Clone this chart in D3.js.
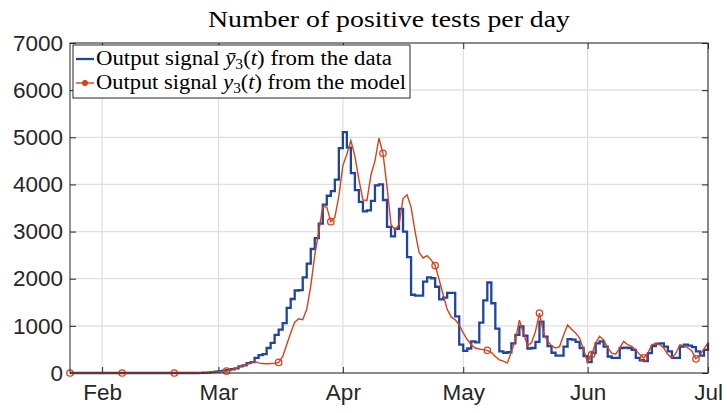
<!DOCTYPE html>
<html>
<head>
<meta charset="utf-8">
<script src="https://cdn.jsdelivr.net/npm/d3@7/dist/d3.min.js"></script>
<style>
  body { margin: 0; background: #fff; }
  svg { display: block; }
</style>
</head>
<body>
<div id="chart"></div>
<script>
// day 0 = 24 Jan 2020, one value per day up to 1 Jul
const startDate = new Date(2020, 0, 24);
const endDate = new Date(2020, 6, 1);

const dataValues = [
  0, 0, 0, 0, 0, 0, 0, 0, 0, 0, 0, 0, 0, 0, 0, 0, 0, 0, 0, 0,
  0, 0, 0, 0, 0, 0, 0, 0, 0, 0, 0, 0, 2, 5, 10, 18, 28, 40, 50, 60,
  80, 100, 140, 160, 210, 230, 320, 380, 400, 530, 640, 810, 920, 1060, 1380, 1570, 1750, 1760, 2030, 2320,
  2630, 2860, 3170, 3570, 3760, 3860, 4100, 4770, 5110, 4780, 4240, 3880, 3630, 3430, 3450, 3650, 3980, 4000, 3670, 3100,
  2900, 3060, 3480, 3000, 2460, 1660, 1640, 1640, 1940, 2030, 2010, 1830, 1560, 1600, 1700, 1700, 1200, 600, 470, 520,
  670, 650, 1070, 1540, 1920, 1480, 940, 460, 430, 440, 630, 810, 990, 790, 520, 530, 660, 1090, 770, 570,
  430, 370, 370, 560, 720, 710, 660, 530, 360, 230, 420, 630, 670, 560, 350, 320, 320, 530, 540, 530,
  490, 320, 270, 250, 420, 570, 620, 630, 560, 460, 320, 320, 560, 600, 580, 550, 460, 370, 490, 640
];

const modelValues = [
  0, 0, 0, 0, 0, 0, 0, 0, 0, 0, 0, 0, 0, 0, 0, 0, 0, 0, 0, 0,
  0, 0, 0, 0, 0, 0, 0, 0, 0, 0, 0, 2, 4, 7, 10, 15, 20, 25, 32, 40,
  60, 90, 120, 150, 180, 215, 245, 215, 200, 195, 200, 205, 225, 350, 600, 850, 1080, 1150, 1130, 1350,
  1850, 2500, 3000, 3530, 3520, 3210, 3300, 3750, 4400, 4640, 4930, 4600, 4100, 3670, 3660, 4200, 4500, 4980, 4660, 3960,
  3150, 3030, 3150, 3700, 3780, 3520, 3000, 2560, 2440, 2490, 2400, 2280, 1980, 1660, 1350, 1190, 1130, 1020, 850, 710,
  600, 530, 510, 495, 480, 440, 350, 280, 250, 215, 450, 700, 1120, 850, 580, 640, 880, 1270, 850, 680,
  580, 530, 560, 800, 1020, 930, 850, 740, 500, 230, 390, 640, 780, 700, 540, 420, 400, 530, 670, 600,
  565, 490, 390, 320, 420, 600, 620, 600, 530, 390, 320, 420, 600, 580, 530, 460, 300, 390, 510, 640
];

// model markers sit on every 13th day
const markerDays = [0, 13, 26, 39, 52, 65, 78, 91, 104, 117, 130, 143, 156];

const yTicks = [0, 1000, 2000, 3000, 4000, 5000, 6000, 7000];
const monthTicks = [
  new Date(2020, 1, 1), new Date(2020, 2, 1), new Date(2020, 3, 1),
  new Date(2020, 4, 1), new Date(2020, 5, 1), new Date(2020, 6, 1)
];

const titleText = 'Number of positive tests per day';

const width = 727;
const height = 413;
const margin = { top: 43, right: 19, bottom: 40, left: 70 };
const innerW = width - margin.left - margin.right;
const innerH = height - margin.top - margin.bottom;

const axisColor = '#262626';
const gridColor = '#dedede';
const blue = '#1f469c';
const red = '#d4421a';
const serif = '"Liberation Serif", "Times New Roman", serif';
const sans = '"Liberation Sans", Arial, sans-serif';

const svg = d3.select('#chart')
  .append('svg')
  .attr('width', width)
  .attr('height', height);

const g = svg.append('g')
  .attr('transform', `translate(${margin.left}, ${margin.top})`);

const x = d3.scaleTime().domain([startDate, endDate]).range([0, innerW]);
const y = d3.scaleLinear().domain([0, 7000]).range([innerH, 0]);

const day = i => d3.timeDay.offset(startDate, i);

// grid
g.append('g')
  .selectAll('line')
  .data(yTicks)
  .enter()
  .append('line')
  .attr('x1', 0)
  .attr('x2', innerW)
  .attr('y1', d => y(d))
  .attr('y2', d => y(d))
  .style('stroke', gridColor)
  .style('stroke-width', 1.2);

g.append('g')
  .selectAll('line')
  .data(monthTicks)
  .enter()
  .append('line')
  .attr('x1', d => x(d))
  .attr('x2', d => x(d))
  .attr('y1', 0)
  .attr('y2', innerH)
  .style('stroke', gridColor)
  .style('stroke-width', 1.2);

// axes, ticks pointing inward
const styleAxis = sel => {
  sel.select('.domain').remove();
  sel.selectAll('line').style('stroke', axisColor).style('stroke-width', 1);
  sel.selectAll('text')
    .style('fill', axisColor)
    .style('font-family', sans)
    .style('font-size', '22.5px');
};

g.append('g')
  .call(d3.axisLeft(y).tickValues(yTicks).tickSize(-6).tickPadding(7).tickFormat(d3.format('d')))
  .call(styleAxis);

g.append('g')
  .attr('transform', `translate(${innerW}, 0)`)
  .call(d3.axisRight(y).tickValues(yTicks).tickSize(-6).tickFormat(''))
  .call(styleAxis);

g.append('g')
  .attr('transform', `translate(0, ${innerH})`)
  .call(d3.axisBottom(x).tickValues(monthTicks).tickSize(-6).tickPadding(11).tickFormat(d3.timeFormat('%b')))
  .call(styleAxis);

g.append('g')
  .call(d3.axisTop(x).tickValues(monthTicks).tickSize(-6).tickFormat(''))
  .call(styleAxis);

// series
const stairs = d3.line()
  .x((d, i) => x(day(i)))
  .y(d => y(d))
  .curve(d3.curveStepAfter);

g.append('path')
  .datum(dataValues)
  .attr('d', stairs)
  .style('fill', 'none')
  .style('stroke', blue)
  .style('stroke-width', 2.3);

const modelLine = d3.line()
  .x((d, i) => x(day(i)))
  .y(d => y(d));

g.append('path')
  .datum(modelValues)
  .attr('d', modelLine)
  .style('fill', 'none')
  .style('stroke', red)
  .style('stroke-width', 1.4);

g.append('g')
  .selectAll('circle')
  .data(markerDays)
  .enter()
  .append('circle')
  .attr('cx', d => x(day(d)))
  .attr('cy', d => y(modelValues[d]))
  .attr('r', 3.2)
  .style('fill', 'none')
  .style('stroke', red)
  .style('stroke-width', 1.3);

// box
g.append('rect')
  .attr('width', innerW)
  .attr('height', innerH)
  .style('fill', 'none')
  .style('stroke', axisColor)
  .style('stroke-width', 1);

// title
svg.append('text')
  .attr('x', margin.left + innerW / 2)
  .attr('y', 27)
  .attr('text-anchor', 'middle')
  .attr('textLength', 362)
  .attr('lengthAdjust', 'spacingAndGlyphs')
  .style('font-family', serif)
  .style('font-size', '24px')
  .style('fill', '#000')
  .text(titleText);

// legend
const legend = g.append('g').attr('transform', 'translate(3, 2)');
legend.append('rect')
  .attr('width', 337)
  .attr('height', 53)
  .style('fill', '#fff')
  .style('stroke', axisColor)
  .style('stroke-width', 1);

const entries = [
  { color: blue, width: 2.3, marker: false, bar: true, tail: ' from the data', len: 296 },
  { color: red, width: 1.4, marker: true, bar: false, tail: ' from the model', len: 310 }
];

entries.forEach((e, i) => {
  const cy = 14 + i * 24;
  legend.append('line')
    .attr('x1', 3).attr('x2', 21)
    .attr('y1', cy).attr('y2', cy)
    .style('stroke', e.color)
    .style('stroke-width', e.width);
  if (e.marker) {
    legend.append('circle')
      .attr('cx', 12).attr('cy', cy).attr('r', 2.6)
      .style('fill', e.color)
      .style('stroke', e.color);
  }
  const t = legend.append('text')
    .attr('x', 23)
    .attr('y', cy + 6)
    .attr('textLength', e.len)
    .attr('lengthAdjust', 'spacingAndGlyphs')
    .style('font-family', serif)
    .style('font-size', '20.5px')
    .style('fill', '#000');
  t.append('tspan').text('Output signal ');
  t.append('tspan').style('font-style', 'italic').text(e.bar ? 'y\u0304' : 'y');
  t.append('tspan').attr('dy', 4).style('font-size', '14px').text('3');
  t.append('tspan').attr('dy', -4).text('(');
  t.append('tspan').style('font-style', 'italic').text('t');
  t.append('tspan').text(')' + e.tail);
});
</script>
</body>
</html>
